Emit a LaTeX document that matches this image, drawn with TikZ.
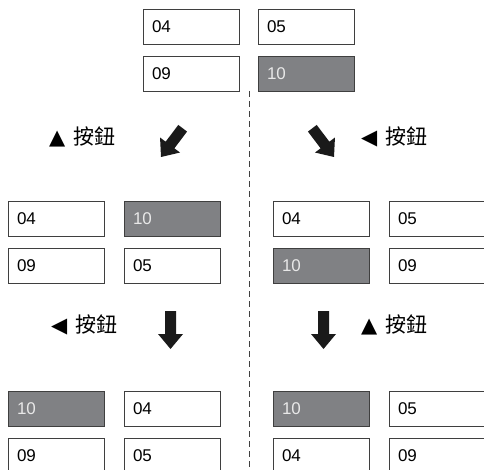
\documentclass[tikz,border=0pt]{standalone}
\usepackage{fontspec}
\setmainfont{Liberation Sans}
\newfontfamily\cjk{Noto Sans CJK TC}
\newfontfamily\symf{DejaVu Sans}
\definecolor{boxline}{HTML}{3F3F3F}
\definecolor{boxgray}{HTML}{808184}
\definecolor{graytext}{HTML}{E8E8E8}
\definecolor{arrowblack}{HTML}{1A1A1A}
\begin{document}
\begin{tikzpicture}[x=1pt,y=-1pt,
  numbox/.style={draw=boxline, line width=1pt, fill=white, rectangle, anchor=north west,
    minimum width=96pt, minimum height=35pt, text width=79pt, inner xsep=8.5pt, inner ysep=0pt,
    align=left, font=\fontsize{17}{17}\selectfont, text=black},
  selbox/.style={numbox, fill=boxgray, text=graytext},
  btnlabel/.style={anchor=west, inner sep=0pt, font=\fontsize{21}{21}\selectfont},
  bigarrow/.style={fill=arrowblack, draw=none},
  divider/.style={draw=boxline, line width=0.9pt, dash pattern=on 6pt off 4pt}
]
\useasboundingbox (0,0) rectangle (484,470);
\clip (0,0) rectangle (484,470);

% top group
\node[numbox] (t04) at (143,9) {04};
\node[numbox] (t05) at (258,9) {05};
\node[numbox] (t09) at (143,56) {09};
\node[selbox] (t10) at (258,56) {10};

% divider
\coordinate (dtop) at (249,91);
\coordinate (dbot) at (249,470);
\draw[divider] (dtop) -- (dbot);

% middle left
\node[numbox] (ml04) at (8,201) {04};
\node[selbox] (ml10) at (124,201) {10};
\node[numbox] (ml09) at (8,248) {09};
\node[numbox] (ml05) at (124,248) {05};

% middle right
\node[numbox] (mr04) at (273,201) {04};
\node[numbox] (mr05) at (389,201) {05};
\node[selbox] (mr10) at (273,248) {10};
\node[numbox] (mr09) at (389,248) {09};

% bottom left
\node[selbox] (bl10) at (8,391) {10};
\node[numbox] (bl04) at (124,391) {04};
\node[numbox] (bl09) at (8,438) {09};
\node[numbox] (bl05) at (124,438) {05};

% bottom right
\node[selbox] (br10) at (273,391) {10};
\node[numbox] (br05) at (389,391) {05};
\node[numbox] (br04) at (273,438) {04};
\node[numbox] (br09) at (389,438) {09};

% labels
\node[btnlabel] (lab1) at (49,137) {{\symf ▲}\hspace{8pt}{\cjk 按鈕}};
\node[btnlabel] (lab2) at (361,137) {{\symf ◀}\hspace{8pt}{\cjk 按鈕}};
\node[btnlabel] (lab3) at (51,325) {{\symf ◀}\hspace{8pt}{\cjk 按鈕}};
\node[btnlabel] (lab4) at (361,325) {{\symf ▲}\hspace{8pt}{\cjk 按鈕}};

% arrows
\def\arrowshape{(0,0) -- (-12.5,-15) -- (-5.5,-15) -- (-5.5,-36) -- (5.5,-36) -- (5.5,-15) -- (12.5,-15) -- cycle}
\begin{scope}[shift={(161,157)}, rotate=-37]
  \fill[bigarrow] \arrowshape;
\end{scope}
\begin{scope}[shift={(334,157)}, rotate=37]
  \fill[bigarrow] \arrowshape;
\end{scope}
\begin{scope}[shift={(170.5,349)}]
  \fill[bigarrow] (0,0) -- (-12.5,-15) -- (-5.5,-15) -- (-5.5,-38) -- (5.5,-38) -- (5.5,-15) -- (12.5,-15) -- cycle;
\end{scope}
\begin{scope}[shift={(323.5,349)}]
  \fill[bigarrow] (0,0) -- (-12.5,-15) -- (-5.5,-15) -- (-5.5,-38) -- (5.5,-38) -- (5.5,-15) -- (12.5,-15) -- cycle;
\end{scope}
\end{tikzpicture}
\end{document}
